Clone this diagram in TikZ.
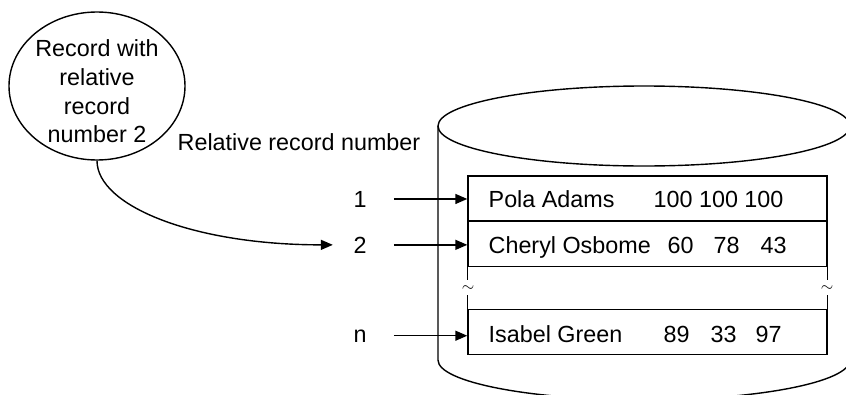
\documentclass[tikz,border=0pt]{standalone}
\usepackage{fontspec}
\setmainfont{Liberation Sans}
\usetikzlibrary{shapes.geometric,arrows.meta}

\begin{document}
\begin{tikzpicture}[x=0.75pt,y=0.75pt,line width=1.05pt,>={Triangle[length=9pt,width=7.5pt]},
		txt/.style={font=\fontsize{17.5}{21.5}\selectfont,inner sep=0pt},
		rowbox/.style={draw,minimum width=269.25pt,minimum height=34pt,inner sep=0pt},
		brk/.style={font=\fontsize{13}{14}\selectfont,inner sep=0pt}]
				\useasboundingbox (0,0) rectangle (846,394);
				\draw (644,268) ellipse (206 and 40);
				\draw (438,268) -- (438,34) arc (180:360:206 and 40) -- (850,268);
				\node[ellipse,draw,minimum width=132pt,minimum height=111pt] (rec) at (97,308) {};
				\node[txt,align=center] (rectxt) at (97,302.5) {Record with\\relative\\record\\number 2};
				\node[txt,anchor=base west] (rrn) at (177,244) {Relative record number};
				\node[rowbox] (r1) at (647.5,195.5) {};
				\node[rowbox] (r2) at (647.5,150) {};
				\node[rowbox] (rn) at (647.5,62) {};
				\node[brk] (t1) at (468,105) {$\sim$};
				\node[brk] (t2) at (827,105) {$\sim$};
				\draw (r2.south west) -- ++(0,-13);
				\draw (r2.south east) -- ++(0,-13);
				\draw (rn.north west) -- ++(0,14);
				\draw (rn.north east) -- ++(0,14);
				\node[txt,anchor=base] (l1) at (360,187) {1};
				\node[txt,anchor=base] (l2) at (360,141) {2};
				\node[txt,anchor=base] (ln) at (360,52) {n};
				\draw[->,shorten <=20pt] (l1.east) -- (l1.east -| r1.west);
				\draw[->,shorten <=20pt] (l2.east) -- (l2.east -| r2.west);
				\draw[->,shorten <=20pt] (ln.east) -- (ln.east -| rn.west);
				\draw[->,shorten >=15pt] (rec.south) .. controls +(0,-45) and +(-160,0) .. (l2.west);
				\node[txt,anchor=base west] (p1) at (488,187) {Pola Adams};
				\node[txt,anchor=base west] (p2) at (653,187) {100 100 100};
				\node[txt,anchor=base west] (c1) at (488,141) {Cheryl Osbome};
				\node[txt,anchor=base west] (c2) at (667,141) {60};
				\node[txt,anchor=base west] (c3) at (713,141) {78};
				\node[txt,anchor=base west] (c4) at (760,141) {43};
				\node[txt,anchor=base west] (g1) at (488,52) {Isabel Green};
				\node[txt,anchor=base west] (g2) at (663,52) {89};
				\node[txt,anchor=base west] (g3) at (710,52) {33};
				\node[txt,anchor=base west] (g4) at (755,52) {97};
\end{tikzpicture}
\end{document}
